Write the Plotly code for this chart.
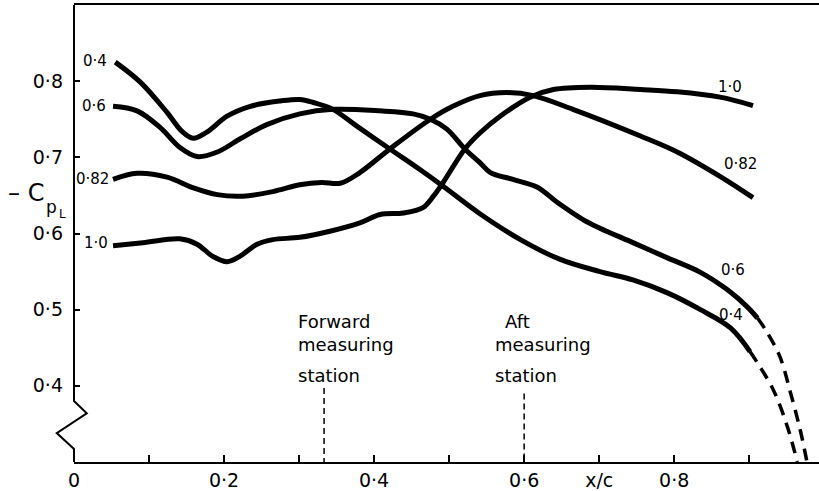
import plotly.graph_objects as go

# ---- data ----
x_m04 = [0.055, 0.088, 0.124, 0.144, 0.159, 0.177, 0.204, 0.235, 0.275, 0.301, 0.319, 0.345, 0.377, 0.421, 0.461, 0.492, 0.541, 0.595, 0.648, 0.701, 0.745, 0.791, 0.835, 0.875, 0.901]
y_m04 = [0.825, 0.799, 0.759, 0.734, 0.725, 0.733, 0.754, 0.767, 0.774, 0.776, 0.772, 0.763, 0.741, 0.711, 0.684, 0.662, 0.626, 0.592, 0.566, 0.550, 0.539, 0.522, 0.500, 0.476, 0.445]
x_m04_ext = [0.901, 0.911, 0.932, 0.951, 0.964]
y_m04_ext = [0.445, 0.430, 0.395, 0.346, 0.300]

x_m06 = [0.052, 0.084, 0.115, 0.141, 0.164, 0.191, 0.221, 0.257, 0.301, 0.345, 0.408, 0.452, 0.475, 0.497, 0.521, 0.541, 0.555, 0.585, 0.617, 0.644, 0.679, 0.701, 0.745, 0.791, 0.835, 0.871, 0.897, 0.911]
y_m06 = [0.767, 0.761, 0.739, 0.713, 0.701, 0.707, 0.724, 0.743, 0.757, 0.763, 0.761, 0.757, 0.750, 0.737, 0.711, 0.693, 0.680, 0.671, 0.661, 0.641, 0.618, 0.607, 0.588, 0.568, 0.549, 0.526, 0.504, 0.489]
x_m06_ext = [0.911, 0.924, 0.941, 0.955, 0.968, 0.977]
y_m06_ext = [0.489, 0.470, 0.438, 0.391, 0.342, 0.300]

x_m082 = [0.052, 0.084, 0.124, 0.159, 0.191, 0.225, 0.265, 0.301, 0.330, 0.355, 0.381, 0.421, 0.475, 0.505, 0.541, 0.577, 0.612, 0.665, 0.755, 0.804, 0.861, 0.905]
y_m082 = [0.671, 0.679, 0.674, 0.660, 0.651, 0.649, 0.655, 0.664, 0.667, 0.666, 0.680, 0.711, 0.750, 0.767, 0.781, 0.785, 0.781, 0.763, 0.728, 0.707, 0.675, 0.647]

x_m10 = [0.052, 0.092, 0.141, 0.164, 0.185, 0.204, 0.221, 0.244, 0.265, 0.301, 0.341, 0.381, 0.408, 0.439, 0.465, 0.479, 0.492, 0.521, 0.541, 0.568, 0.608, 0.639, 0.688, 0.755, 0.804, 0.861, 0.905]
y_m10 = [0.584, 0.588, 0.593, 0.586, 0.570, 0.563, 0.570, 0.586, 0.592, 0.595, 0.603, 0.614, 0.625, 0.627, 0.634, 0.649, 0.667, 0.711, 0.732, 0.754, 0.779, 0.789, 0.792, 0.789, 0.786, 0.779, 0.768]

y_tick_vals = [0.4, 0.5, 0.6, 0.7, 0.8]
y_tick_text = ["0·4", "0·5", "0·6", "0·7", "0·8"]
x_tick_vals = [0.0, 0.1, 0.2, 0.3, 0.4, 0.5, 0.6, 0.7, 0.8, 0.9]
x_tick_text = ["0", "", "0·2", "", "0·4", "", "0·6", "x/c", "0·8", ""]

forward_station = 1 / 3
aft_station = 0.6

FONT = "DejaVu Sans"
X0, X1 = 0.0, 0.993
Y0, Y1 = 0.3, 0.9
L_PX, T_PX, W_PX, H_PX = 74, 5, 745, 457

fig = go.Figure()

def curve(x, y, dash="solid", width=5):
    fig.add_trace(go.Scatter(x=x, y=y, mode="lines",
                             line=dict(color="black", width=width, dash=dash,
                                       shape="spline", smoothing=1.0),
                             hoverinfo="skip", showlegend=False))

curve(x_m04, y_m04)
curve(x_m04_ext, y_m04_ext, dash="12px,8px", width=3.5)
curve(x_m06, y_m06)
curve(x_m06_ext, y_m06_ext, dash="12px,8px", width=3.5)
curve(x_m082, y_m082)
curve(x_m10, y_m10)

# measuring station markers
for xs, ytop in [(forward_station, 0.397), (aft_station, 0.390)]:
    fig.add_shape(type="line", x0=xs, x1=xs, y0=ytop, y1=Y0, xref="x", yref="y",
                  line=dict(color="black", width=1.5, dash="6px,4px"))

def px(xd):
    return (xd - X0) / (X1 - X0)
def py(yd):
    return (yd - Y0) / (Y1 - Y0)

# left axis with break symbol
brk = [(0.0, Y1), (0.0, 0.380), (0.017, 0.364), (-0.023, 0.338), (0.0, 0.317), (0.0, Y0)]
path = "M " + " L ".join(f"{px(a):.5f},{py(b):.5f}" for a, b in brk)
fig.add_shape(type="path", path=path, xref="paper", yref="paper",
              line=dict(color="black", width=2))

ann = []
def label(x, y, t, size=15, xanchor="center"):
    ann.append(dict(x=x, y=y, text=t, showarrow=False, xanchor=xanchor, yanchor="middle",
                    xref="x", yref="y",
                    font=dict(family=FONT, size=size, color="black")))

# curve labels (Mach numbers)
label(0.028, 0.826, "0·4")
label(0.027, 0.767, "0·6")
label(0.025, 0.671, "0·82")
label(0.029, 0.588, "1·0")
label(0.875, 0.793, "1·0")
label(0.889, 0.691, "0·82")
label(0.879, 0.552, "0·6")
label(0.876, 0.493, "0·4")

# station text
label(0.296, 0.484, "Forward", size=18, xanchor="left")
label(0.296, 0.454, "measuring", size=18, xanchor="left")
label(0.296, 0.414, "station", size=18, xanchor="left")
label(0.572, 0.484, "Aft", size=18, xanchor="left")
label(0.558, 0.454, "measuring", size=18, xanchor="left")
label(0.558, 0.414, "station", size=18, xanchor="left")

# y-axis title  -C_{p_L}  (paper coords)
def ppx(p):
    return (p - L_PX) / W_PX
def ppy(p):
    return (T_PX + H_PX - p) / H_PX

ann.append(dict(x=ppx(46), y=ppy(193), xref="paper", yref="paper", text="– C",
                showarrow=False, xanchor="right", yanchor="middle",
                font=dict(family=FONT, size=24, color="black")))
ann.append(dict(x=ppx(44), y=ppy(207), xref="paper", yref="paper", text="p",
                showarrow=False, xanchor="left", yanchor="middle",
                font=dict(family=FONT, size=17, color="black")))
ann.append(dict(x=ppx(57), y=ppy(214), xref="paper", yref="paper", text="L",
                showarrow=False, xanchor="left", yanchor="middle",
                font=dict(family=FONT, size=12, color="black")))

fig.update_layout(annotations=ann)

fig.update_xaxes(range=[X0, X1], showgrid=False, zeroline=False,
                 showline=True, linecolor="black", linewidth=2, mirror=True,
                 ticks="inside", ticklen=7, tickwidth=1.5, tickcolor="black",
                 tickvals=x_tick_vals, ticktext=x_tick_text,
                 tickfont=dict(family=FONT, size=19, color="black"))
fig.update_yaxes(range=[Y0, Y1], showgrid=False, zeroline=False, showline=False,
                 ticks="inside", ticklen=6, tickwidth=1.5, tickcolor="black",
                 tickvals=y_tick_vals, ticktext=y_tick_text, ticklabelstandoff=10,
                 tickfont=dict(family=FONT, size=19, color="black"))

fig.update_layout(width=819, height=491, margin=dict(l=L_PX, r=0, t=T_PX, b=491 - T_PX - H_PX),
                  plot_bgcolor="white", paper_bgcolor="white", showlegend=False)

fig.write_html("out.html")
